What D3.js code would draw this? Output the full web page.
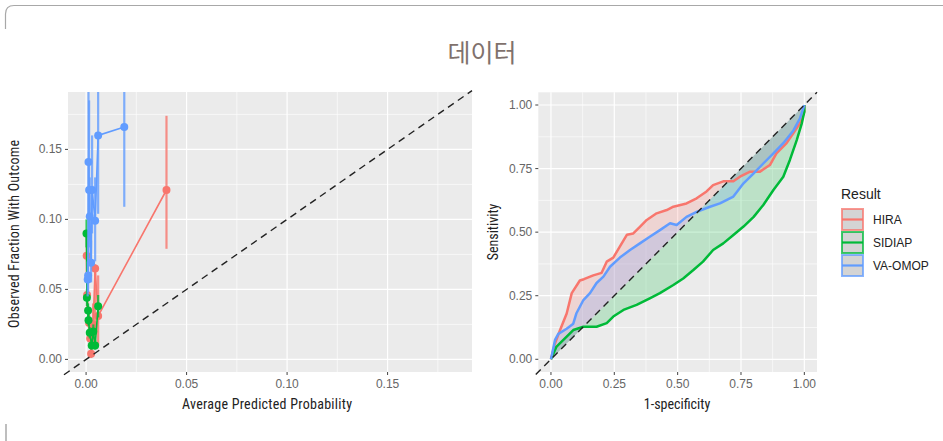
<!DOCTYPE html>
<html>
<head>
<meta charset="utf-8">
<script src="https://cdn.jsdelivr.net/npm/d3@7"></script>
<style>
  body { margin: 0; background: #fff; }
  svg { display: block; }
  .tick-label { font-family: "Liberation Sans", Arial, sans-serif; font-size: 12px; fill: #666; }
  .axis-title { font-family: "Liberation Sans Narrow", "Roboto Condensed", "Liberation Sans", sans-serif; font-size: 14px; fill: #222; }
</style>
</head>
<body>
<svg id="chart" width="943" height="441"></svg>
<script>
var seriesNames = ["HIRA", "SIDIAP", "VA-OMOP"];
var seriesColors = ["#F8766D", "#00BA38", "#619CFF"];

// calibration: predicted, observed, lower, upper
var calHIRA = [
  [0.0003, 0.074, 0.060, 0.090], [0.0005, 0.046, 0.035, 0.058], [0.0015, 0.026, 0.018, 0.036],
  [0.0020, 0.015, 0.008, 0.024], [0.0025, 0.004, 0.001, 0.012], [0.0035, 0.025, 0.010, 0.040],
  [0.0045, 0.065, 0.012, 0.068], [0.0060, 0.031, 0.010, 0.060], [0.0400, 0.121, 0.079, 0.174]
];
var calSIDIAP = [
  [0.0002, 0.090, 0.080, 0.100], [0.0004, 0.044, 0.038, 0.050], [0.0010, 0.035, 0.030, 0.040],
  [0.0012, 0.028, 0.024, 0.033], [0.0018, 0.019, 0.015, 0.023], [0.0028, 0.010, 0.007, 0.014],
  [0.0036, 0.020, 0.016, 0.025], [0.0045, 0.010, 0.007, 0.014], [0.0060, 0.038, 0.030, 0.046]
];
var calVAOMOP = [
  [0.0008, 0.057, 0.045, 0.070], [0.0010, 0.060, 0.048, 0.073], [0.0012, 0.141, 0.070, 0.250],
  [0.0015, 0.121, 0.085, 0.185], [0.0018, 0.102, 0.080, 0.130], [0.0025, 0.069, 0.055, 0.085],
  [0.0030, 0.121, 0.090, 0.160], [0.0045, 0.099, 0.070, 0.130], [0.0060, 0.160, 0.104, 0.250],
  [0.0190, 0.166, 0.109, 0.250]
];

// ROC: 1-specificity, sensitivity
var rocHIRA = [
  [0,0],[0.015,0.06],[0.036,0.115],[0.062,0.18],[0.082,0.26],[0.114,0.31],[0.13,0.315],[0.167,0.33],
  [0.2,0.34],[0.22,0.384],[0.246,0.40],[0.27,0.44],[0.30,0.49],[0.325,0.495],[0.35,0.52],
  [0.378,0.548],[0.417,0.574],[0.457,0.587],[0.483,0.60],[0.535,0.613],[0.575,0.633],[0.614,0.66],
  [0.64,0.685],[0.68,0.70],[0.72,0.70],[0.746,0.718],[0.786,0.738],[0.825,0.738],[0.864,0.764],
  [0.89,0.81],[0.93,0.85],[0.957,0.89],[0.983,0.928],[1,0.974],[1,1]
];
var rocSIDIAP = [
  [0,0],[0.022,0.05],[0.049,0.076],[0.088,0.115],[0.128,0.128],[0.18,0.128],[0.22,0.142],
  [0.246,0.168],[0.286,0.194],[0.338,0.214],[0.39,0.24],[0.43,0.26],[0.483,0.292],[0.522,0.318],
  [0.562,0.351],[0.6,0.384],[0.64,0.43],[0.68,0.456],[0.72,0.489],[0.76,0.522],[0.8,0.56],
  [0.838,0.607],[0.878,0.666],[0.917,0.718],[0.943,0.784],[0.97,0.862],[0.99,0.928],[1,0.974],[1,1]
];
var rocVAOMOP = [
  [0,0],[0.016,0.076],[0.029,0.10],[0.062,0.12],[0.088,0.14],[0.1,0.18],[0.128,0.233],[0.154,0.26],
  [0.18,0.30],[0.207,0.325],[0.233,0.364],[0.272,0.40],[0.312,0.43],[0.351,0.456],[0.39,0.482],
  [0.43,0.508],[0.47,0.535],[0.496,0.528],[0.535,0.56],[0.575,0.58],[0.628,0.60],[0.667,0.613],
  [0.72,0.64],[0.76,0.692],[0.8,0.731],[0.838,0.77],[0.878,0.81],[0.917,0.85],[0.957,0.90],
  [0.983,0.948],[1,1]
];

var calTicks = [0, 0.05, 0.10, 0.15];
var calMinor = [0.025, 0.075, 0.125, 0.175];
var rocTicks = [0, 0.25, 0.5, 0.75, 1];
var rocMinor = [0.125, 0.375, 0.625, 0.875];

var svg = d3.select("#chart");

// frame decoration
svg.append("path")
  .attr("d", "M5.5,29 L5.5,14 Q5.5,5.5 14,5.5 L943,5.5")
  .attr("fill", "none").attr("stroke", "#a8a8a8").attr("stroke-width", 1.2);
svg.append("line").attr("x1", 6).attr("x2", 6).attr("y1", 424).attr("y2", 441)
  .attr("stroke", "#a8a8a8").attr("stroke-width", 1.5);

svg.append("text")
  .attr("x", 482).attr("y", 62)
  .attr("text-anchor", "middle")
  .style("font-family", "'Noto Sans CJK KR', sans-serif")
  .style("font-size", "25px")
  .style("fill", "#7f716c")
  .text("데이터");

function drawPanel(id, x, y, majX, minX, majY, minY, fmt) {
  var g = svg.append("g");
  var x0 = x.range()[0], x1 = x.range()[1], y0 = y.range()[0], y1 = y.range()[1];
  g.append("rect").attr("x", x0).attr("y", y1).attr("width", x1 - x0).attr("height", y0 - y1)
    .attr("fill", "#EBEBEB");
  minX.forEach(function(v) {
    g.append("line").attr("x1", x(v)).attr("x2", x(v)).attr("y1", y1).attr("y2", y0)
      .attr("stroke", "#fff").attr("stroke-width", 0.6);
  });
  minY.forEach(function(v) {
    g.append("line").attr("x1", x0).attr("x2", x1).attr("y1", y(v)).attr("y2", y(v))
      .attr("stroke", "#fff").attr("stroke-width", 0.6);
  });
  majX.forEach(function(v) {
    g.append("line").attr("x1", x(v)).attr("x2", x(v)).attr("y1", y1).attr("y2", y0)
      .attr("stroke", "#fff").attr("stroke-width", 1.2);
    g.append("line").attr("x1", x(v)).attr("x2", x(v)).attr("y1", y0).attr("y2", y0 + 3)
      .attr("stroke", "#444").attr("stroke-width", 1);
    g.append("text").attr("class", "tick-label").attr("x", x(v)).attr("y", y0 + 16)
      .attr("text-anchor", "middle").text(fmt(v));
  });
  majY.forEach(function(v) {
    g.append("line").attr("x1", x0).attr("x2", x1).attr("y1", y(v)).attr("y2", y(v))
      .attr("stroke", "#fff").attr("stroke-width", 1.2);
    g.append("line").attr("x1", x0 - 3).attr("x2", x0).attr("y1", y(v)).attr("y2", y(v))
      .attr("stroke", "#444").attr("stroke-width", 1);
    g.append("text").attr("class", "tick-label").attr("x", x0 - 6).attr("y", y(v) + 4)
      .attr("text-anchor", "end").text(fmt(v));
  });
  svg.append("clipPath").attr("id", id).append("rect")
    .attr("x", x0).attr("y", y1).attr("width", x1 - x0).attr("height", y0 - y1);
  return svg.append("g").attr("clip-path", "url(#" + id + ")");
}

var fmt2 = d3.format(".2f");

// ---------- left: calibration ----------
var xc = d3.scaleLinear().domain([-0.009, 0.192]).range([68, 472]);
var yc = d3.scaleLinear().domain([-0.009, 0.191]).range([372, 92]);
var gc = drawPanel("clipCal", xc, yc, calTicks, calMinor, calTicks, calMinor, fmt2);

var calData = [calHIRA, calSIDIAP, calVAOMOP];
var calLine = d3.line().x(function(d) { return xc(d[0]); }).y(function(d) { return yc(d[1]); });
calData.forEach(function(s, i) {
  var c = seriesColors[i];
  gc.selectAll(null).data(s).enter().append("line")
    .attr("x1", function(d) { return xc(d[0]); }).attr("x2", function(d) { return xc(d[0]); })
    .attr("y1", function(d) { return yc(d[2]); }).attr("y2", function(d) { return yc(d[3]); })
    .attr("stroke", c).attr("stroke-width", 2.2).attr("stroke-opacity", 0.8);
  gc.append("path").datum(s.slice().sort(function(a, b) { return a[0] - b[0]; }))
    .attr("d", calLine).attr("fill", "none").attr("stroke", c).attr("stroke-width", 1.6);
  gc.selectAll(null).data(s).enter().append("circle")
    .attr("cx", function(d) { return xc(d[0]); }).attr("cy", function(d) { return yc(d[1]); })
    .attr("r", 4).attr("fill", c);
});
svg.append("line")
  .attr("x1", xc(-0.011)).attr("y1", yc(-0.011)).attr("x2", xc(0.192)).attr("y2", yc(0.192))
  .attr("stroke", "#222").attr("stroke-width", 1.4).attr("stroke-dasharray", "7,5");

svg.append("text").attr("class", "axis-title").attr("x", 267).attr("y", 409)
  .attr("text-anchor", "middle").attr("textLength", 170).text("Average Predicted Probability");
svg.append("text").attr("class", "axis-title")
  .attr("transform", "translate(19,234) rotate(-90)")
  .attr("text-anchor", "middle").attr("textLength", 188).text("Observed Fraction With Outcome");

// ---------- right: ROC ----------
var xr = d3.scaleLinear().domain([-0.05, 1.05]).range([538.3, 817]);
var yr = d3.scaleLinear().domain([-0.05, 1.05]).range([372, 92.3]);
var gr = drawPanel("clipRoc", xr, yr, rocTicks, rocMinor, rocTicks, rocMinor, fmt2);

var rocData = [rocHIRA, rocSIDIAP, rocVAOMOP];
var rocArea = d3.area()
  .x(function(d) { return xr(d[0]); })
  .y0(function(d) { return yr(d[0]); })
  .y1(function(d) { return yr(d[1]); });
var rocLine = d3.line()
  .x(function(d) { return xr(d[0]); }).y(function(d) { return yr(d[1]); });
rocData.forEach(function(s, i) {
  gr.append("path").datum(s).attr("d", rocArea)
    .attr("fill", seriesColors[i]).attr("fill-opacity", 0.2).attr("stroke", "none");
});
rocData.forEach(function(s, i) {
  gr.append("path").datum(s).attr("d", rocLine)
    .attr("fill", "none").attr("stroke", seriesColors[i]).attr("stroke-width", 2.5)
    .attr("stroke-linejoin", "round");
});
svg.append("line")
  .attr("x1", xr(-0.06)).attr("y1", yr(-0.06)).attr("x2", xr(1.05)).attr("y2", yr(1.05))
  .attr("stroke", "#222").attr("stroke-width", 1.4).attr("stroke-dasharray", "7,5");

svg.append("text").attr("class", "axis-title").attr("x", 677).attr("y", 409)
  .attr("text-anchor", "middle").text("1-specificity");
svg.append("text").attr("class", "axis-title")
  .attr("transform", "translate(498,232) rotate(-90)")
  .attr("text-anchor", "middle").text("Sensitivity");

// ---------- legend ----------
var lg = svg.append("g").attr("transform", "translate(841,199)");
lg.append("text").attr("x", 0).attr("y", 0)
  .style("font-family", "'Liberation Sans', Arial, sans-serif").style("font-size", "14px")
  .style("fill", "#222").text("Result");
seriesNames.forEach(function(n, i) {
  var ky = 9 + i * 23;
  lg.append("rect").attr("x", 1).attr("y", ky + 1).attr("width", 21).attr("height", 21)
    .attr("fill", "#d4d4d4").attr("stroke", seriesColors[i]).attr("stroke-width", 2)
    .attr("stroke-opacity", 0.75);
  lg.append("line").attr("x1", 1).attr("x2", 22).attr("y1", ky + 11.5).attr("y2", ky + 11.5)
    .attr("stroke", seriesColors[i]).attr("stroke-width", 2.2);
  lg.append("text").attr("x", 32).attr("y", ky + 16)
    .style("font-family", "'Liberation Sans', Arial, sans-serif").style("font-size", "12px")
    .style("fill", "#222").text(n);
});
</script>
</body>
</html>
